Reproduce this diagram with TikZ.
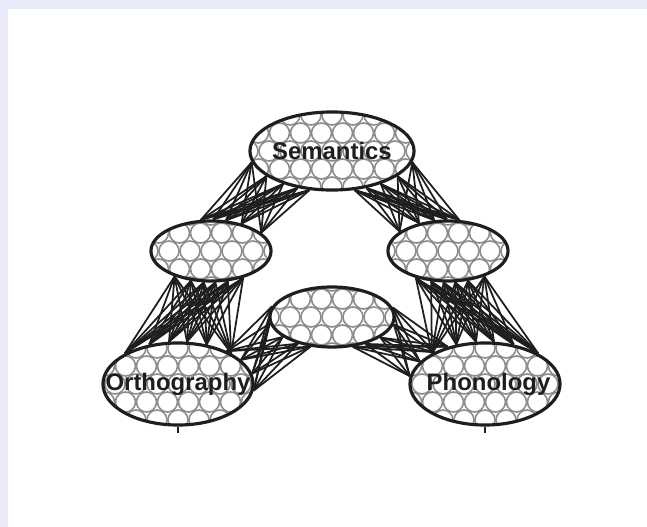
\documentclass[tikz,border=0pt]{standalone}
\usepackage{fontspec}
\setsansfont{Liberation Sans}
\usepackage{xcolor}
\usepackage{tikz}
\usetikzlibrary{shapes.geometric}
\definecolor{framebg}{RGB}{232,235,247}
\definecolor{inkgray}{RGB}{30,30,30}
\definecolor{cellgray}{RGB}{140,140,140}

\begin{document}
\begin{tikzpicture}[x=0.01cm,y=-0.01cm,
    layer/.style={ellipse,draw=inkgray,line width=0.9pt,fill=white,inner sep=0pt,
      font=\sffamily\bfseries\fontsize{6.8}{8}\selectfont,text=inkgray,
      path picture={\foreach \j in {-3,...,3} \foreach \i in {-5,...,5}
        \draw[cell] ([shift={({\i*21+mod(\j,2)*10.5},{\j*18})}]path picture bounding box.center) circle[radius=10];}},
    cell/.style={draw=cellgray,line width=0.45pt},
    link/.style={draw=inkgray,line width=0.5pt}
  ]
    \useasboundingbox (0,0) rectangle (647,527);
    \fill[framebg] (0,0) rectangle (647,527);
    \fill[white] (8,9) rectangle (647,527);
    % layers
    \node[layer,minimum width=1.64cm,minimum height=0.78cm] (sem) at (332,151) {\makebox[0pt]{Semantics}};
    \node[layer,minimum width=1.20cm,minimum height=0.60cm] (hidl) at (211,251) {};
    \node[layer,minimum width=1.20cm,minimum height=0.60cm] (hidr) at (448,251) {};
    \node[layer,minimum width=1.24cm,minimum height=0.60cm] (hidm) at (332,317) {};
    \node[layer,minimum width=1.50cm,minimum height=0.82cm] (orth) at (178,384) {\makebox[0pt]{Orthography}};
    \node[layer,minimum width=1.50cm,minimum height=0.82cm] (phon) at (485,384) {\makebox[0pt]{\hspace{2pt}Phonology}};
    % connections
    \foreach \a in {188,201,...,240} \foreach \b in {20,42,...,110} \draw[link] (sem.\a) -- (hidl.\b);
    \foreach \a in {300,313,...,352} \foreach \b in {70,92,...,160} \draw[link] (sem.\a) -- (hidr.\b);
    \foreach \a in {215,236,...,320} \foreach \b in {30,54,...,150} \draw[link] (hidl.\a) -- (orth.\b);
    \foreach \a in {220,241,...,325} \foreach \b in {30,54,...,150} \draw[link] (hidr.\a) -- (phon.\b);
    \foreach \a in {170,186,...,235} \foreach \b in {-5,8,...,45} \draw[link] (hidm.\a) -- (orth.\b);
    \foreach \a in {-55,-39,...,10} \foreach \b in {135,148,...,185} \draw[link] (hidm.\a) -- (phon.\b);
    % input / output stubs
    \coordinate (orthin) at (178,433);
    \coordinate (phonout) at (485,433);
    \draw[link,line width=0.8pt] (orth.south) -- (orthin);
    \draw[link,line width=0.8pt] (phon.south) -- (phonout);
  \end{tikzpicture}
\end{document}
